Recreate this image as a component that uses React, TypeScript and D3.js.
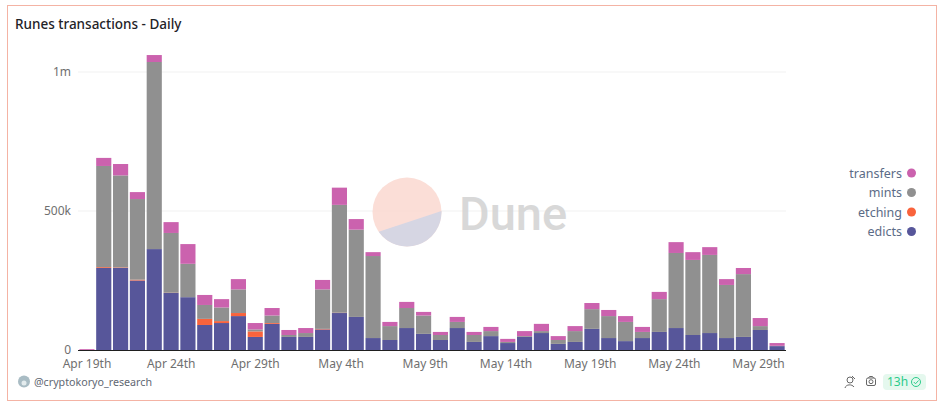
import React from "react";
import * as d3 from "d3";

const days = ["Apr 18","Apr 19","Apr 20","Apr 21","Apr 22","Apr 23","Apr 24","Apr 25","Apr 26","Apr 27","Apr 28","Apr 29","Apr 30","May 1","May 2","May 3","May 4","May 5","May 6","May 7","May 8","May 9","May 10","May 11","May 12","May 13","May 14","May 15","May 16","May 17","May 18","May 19","May 20","May 21","May 22","May 23","May 24","May 25","May 26","May 27","May 28","May 29"];
const edicts = [0,295,295,250,363,205,190,90,97,122,47,94,47,47,74,133,119,43,36,79,58,36,79,29,50,25,47,61,22,29,76,43,32,43,65,79,54,61,43,47,72,14];
const etching = [0,3,2,3,0,1,0,22,7,11,20,3,0,0,2,1,0,0,0,0,0,0,0,0,0,0,0,0,0,0,0,0,0,0,0,0,0,0,0,0,0,0];
const mints = [0,364,331,290,673,215,120,50,49,85,7,27,7,14,142,388,314,295,50,72,66,18,22,25,18,4,3,7,14,39,71,79,69,22,118,270,270,281,191,226,14,1];
const transfers = [3,29,41,25,25,39,71,36,30,37,23,27,18,18,34,62,38,14,15,22,13,11,18,11,15,11,18,26,14,18,22,22,21,18,26,39,28,28,21,22,29,10];
const tickDays = ["Apr 19","Apr 24","Apr 29","May 4","May 9","May 14","May 19","May 24","May 29"];
const yTicks = [0, 500, 1000];
const yLabels = ["0", "500k", "1m"];
const seriesNames = ["edicts", "etching", "mints", "transfers"];
const seriesColors = ["#57569a", "#f9633c", "#909090", "#cb62ae"];
const legendOrder = ["transfers", "mints", "etching", "edicts"];

const FONT = "'Noto Sans', 'Open Sans', sans-serif";

export default function App() {
  const x = d3.scaleBand<string>().domain(days).range([78.5, 785.5]).paddingInner(0.1).paddingOuter(0.05);
  const y = d3.scaleLinear().domain([0, 1000]).range([350, 72]);
  const rows = days.map((d, i) => ({ day: d, edicts: edicts[i], etching: etching[i], mints: mints[i], transfers: transfers[i] }));
  const stacked = d3.stack<any>().keys(seriesNames)(rows);
  const color = d3.scaleOrdinal<string, string>().domain(seriesNames).range(seriesColors);
  const pieCx = 407, pieCy = 212, pieR = 34.5;
  const chord = d3.path();
  chord.arc(pieCx, pieCy, pieR, -0.03, 2.53);
  chord.closePath();
  const legendY = d3.scalePoint<string>().domain(legendOrder).range([173, 231.5]);

  return (
    <svg width={943} height={407} style={{ position: "absolute", left: 0, top: 0, display: "block", background: "#fff" }} fontFamily={FONT}>
      <rect x={7.5} y={5.5} width={929} height={395} fill="#fff" stroke="#f4b3a4" strokeWidth={1} />
      <text x={15} y={29} fontSize={13.5} fontWeight={500} fill="#1f2328">Runes transactions - Daily</text>

      {yTicks.filter((t) => t > 0).map((t) => (
        <line key={t} x1={78} x2={786} y1={y(t)} y2={y(t)} stroke="#f1f1f1" strokeWidth={1} />
      ))}
      {yTicks.map((t, i) => (
        <text key={t} x={71} y={y(t) + 4} textAnchor="end" fontSize={12} fill="#6f6f6f">{yLabels[i]}</text>
      ))}

      {stacked.map((s) => (
        <g key={s.key} fill={color(s.key)}>
          {s.map((p, i) => (
            p[1] > p[0] ? (
              <rect key={i} x={x(days[i])} width={x.bandwidth()} y={y(p[1])} height={y(p[0]) - y(p[1])} />
            ) : null
          ))}
        </g>
      ))}
      <line x1={78} x2={786} y1={350.5} y2={350.5} stroke="#1f1f1f" strokeWidth={1.2} />

      <g opacity={0.85}>
        <circle cx={pieCx} cy={pieCy} r={pieR} fill="#fbd9d1" />
        <path fill="#cfcfdf" d={chord.toString()} />
        <text x={459} y={229.5} fontSize={47} fontWeight={500} fill="#d2d2d2" fontFamily="Roboto, sans-serif">Dune</text>
      </g>

      {tickDays.map((d) => (
        <text key={d} x={(x(d) as number) + x.bandwidth()} y={368} textAnchor="end" fontSize={12} fill="#6f6f6f">
          {d + "th"}
        </text>
      ))}

      {legendOrder.map((name) => (
        <g key={name}>
          <text x={902} y={(legendY(name) as number) + 4.5} textAnchor="end" fontSize={12.5} fill="#5b6b86">{name}</text>
          <circle cx={911.5} cy={legendY(name)} r={4.5} fill={color(name)} />
        </g>
      ))}

      <circle cx={24} cy={381.5} r={6} fill="#a9bcc4" />
      <circle cx={24} cy={383} r={2.5} fill="#e4ecee" />
      <text x={34} y={385.5} fontSize={10.7} fill="#5f6773">@cryptokoryo_research</text>

      <g fill="none" stroke="#666" strokeWidth={1}>
        <circle cx={850} cy={380} r={3} />
        <path d="M845 388 C846 384 852 384 854 387 M852 376 L855 379" />
        <rect x={866.5} y={378} width={9} height={7.5} rx={1.5} />
        <circle cx={871} cy={381.7} r={2} />
        <path d="M868.5 378 L869.5 376.5 L872.5 376.5 L873.5 378" />
      </g>
      <rect x={883} y={374} width={43} height={16} rx={4} fill="#e5f8ee" />
      <text x={887} y={386} fontSize={12} fill="#2ccb8b">13h</text>
      <g fill="none" stroke="#2ccb8b" strokeWidth={1}>
        <circle cx={916} cy={382} r={4.5} />
        <path d="M913.8 382 L915.5 383.8 L918.5 380.5" />
      </g>
    </svg>
  );
}
